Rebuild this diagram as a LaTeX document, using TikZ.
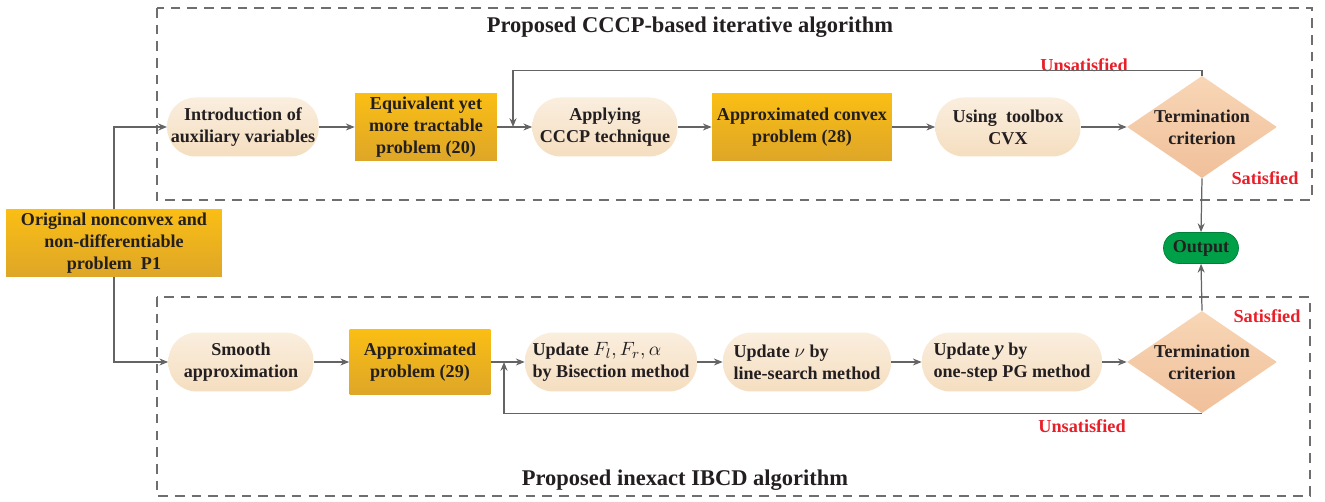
\documentclass[tikz,border=0pt]{standalone}
\usepackage{fontspec}
\setmainfont{Liberation Serif}
\usepackage{amsmath}
\usetikzlibrary{shapes.geometric, arrows.meta}

\definecolor{linegray}{RGB}{100,100,100}
\definecolor{boxgray}{RGB}{110,110,110}
\definecolor{pilltop}{RGB}{250,238,222}
\definecolor{pillbot}{RGB}{245,222,192}
\definecolor{probtop}{RGB}{250,190,20}
\definecolor{probbot}{RGB}{222,166,40}
\definecolor{crittop}{RGB}{248,214,182}
\definecolor{critbot}{RGB}{240,192,154}
\definecolor{outgreen}{RGB}{0,160,72}
\definecolor{labred}{RGB}{232,30,40}
\definecolor{txt}{RGB}{35,31,32}

\newcommand{\bigmath}[1]{{\fontsize{11.2}{12.4}\selectfont$#1$}}

\begin{document}
\begin{tikzpicture}[x=0.02cm, y=-0.02cm,
    every node/.style={font=\fontsize{10.3}{12.4}\selectfont\bfseries, text=txt},
    pill/.style={rectangle, rounded corners=0.56cm, top color=pilltop, bottom color=pillbot, minimum height=1.18cm, align=center, inner sep=2pt},
    prob/.style={rectangle, top color=probtop, bottom color=probbot, minimum height=1.34cm, align=center, inner sep=2pt},
    crit/.style={diamond, top color=crittop, bottom color=critbot, minimum width=3cm, minimum height=1.8cm, inner sep=-4pt, align=center},
    outp/.style={rectangle, rounded corners=0.31cm, fill=outgreen, draw=outgreen!80!black, minimum width=1.5cm, minimum height=0.62cm, inner sep=1pt},
    arr/.style={draw=linegray, line width=0.7pt, -{Stealth[length=5pt,width=4pt]}},
    frame/.style={draw=boxgray, line width=0.9pt, dash pattern=on 5.5pt off 4pt},
    lab/.style={text=labred, font=\fontsize{10.4}{12}\selectfont\bfseries},
    title/.style={font=\fontsize{12.8}{15}\selectfont\bfseries}]
    \useasboundingbox (0,0) rectangle (1325,502);

    \draw[frame] (157,8) rectangle (1312,200);
    \draw[frame] (157,297) rectangle (1310,496);
    \node[title] (ttop) at (690,27) {Proposed CCCP-based iterative algorithm};
    \node[title] (tbot) at (685,480) {Proposed inexact IBCD algorithm};

    \node[prob, minimum width=4.32cm, minimum height=1.32cm] (orig) at (114,243) {Original nonconvex and\\non-differentiable\\problem~~P1};

    \node[pill, minimum width=2.96cm] (intro) at (243,127) {Introduction of\\auxiliary variables};
    \node[prob, minimum width=2.84cm] (equiv) at (426,127) {Equivalent yet\\more tractable\\problem (20)};
    \node[pill, minimum width=2.9cm] (cccp) at (605,127) {Applying\\CCCP technique};
    \node[prob, minimum width=3.6cm] (apx28) at (802,127) {Approximated convex\\problem (28)};
    \node[pill, minimum width=2.9cm] (cvx) at (1008,127) {Using~~toolbox\\CVX};
    \node[crit] (crit1) at (1202,127) {Termination\\criterion};

    \node[outp] (out) at (1201,248) {Output};

    \node[pill, minimum width=2.9cm] (smooth) at (241,362) {Smooth\\approximation};
    \node[prob, minimum width=2.82cm, minimum height=1.3cm] (apx29) at (420,362) {Approximated\\problem (29)};
    \node[pill, minimum width=3.44cm, align=left] (updF) at (611,362) {Update \bigmath{F_l, F_r, \alpha}\\by Bisection method};
    \node[pill, minimum width=3.36cm, align=left] (updnu) at (807,362) {Update \bigmath{\nu} by\\line-search method};
    \node[pill, minimum width=3.6cm, align=left] (updy) at (1012,362) {Update {\fontsize{12}{12.4}\selectfont\itshape y} by\\one-step PG method};
    \node[crit] (crit2) at (1202,362) {Termination\\criterion};

    \node[lab] (uns1) at (1084,65) {Unsatisfied};
    \node[lab] (sat1) at (1265,178) {Satisfied};
    \node[lab] (sat2) at (1267,316) {Satisfied};
    \node[lab] (uns2) at (1082,426) {Unsatisfied};

    \draw[arr] (orig.north) |- (intro.west);
    \draw[arr] (orig.south) |- (smooth.west);
    \foreach \a/\b in {intro/equiv, equiv/cccp, cccp/apx28, apx28/cvx, cvx/crit1,
        smooth/apx29, apx29/updF, updF/updnu, updnu/updy, updy/crit2}
        \draw[arr] (\a.east) -- (\b.west);

    \coordinate (fb1) at (513,127);
    \coordinate (fb2) at (504,362);
    \draw[arr] (crit1.north) -- ++(0,-5) -| (fb1);
    \draw[arr] (crit2.south) -| (fb2);
    \draw[arr] (crit1.south) -- (out.north);
    \draw[arr] (crit2.north) -- (out.south);
\end{tikzpicture}
\end{document}
